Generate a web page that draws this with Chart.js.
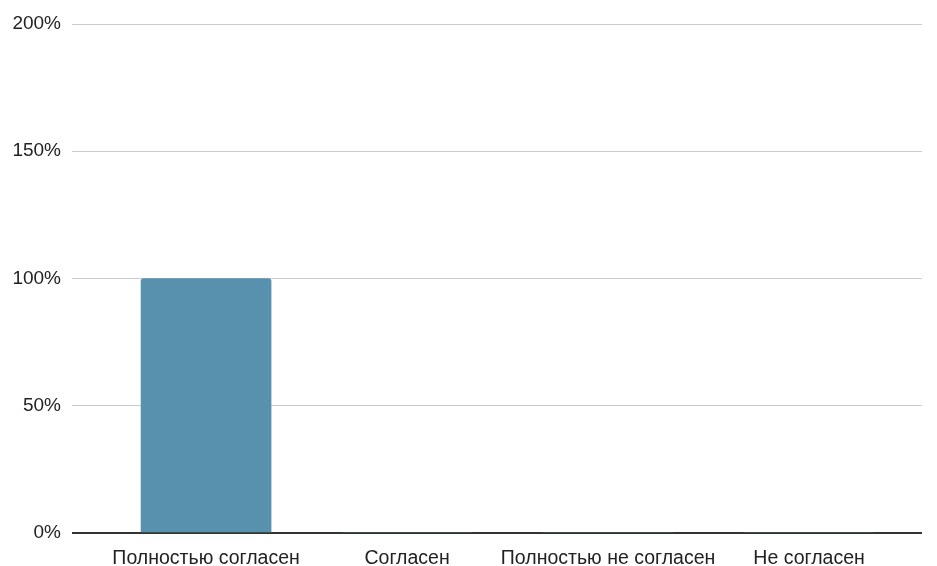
<!DOCTYPE html>
<html>
<head>
<meta charset="utf-8">
<script src="https://cdn.jsdelivr.net/npm/chart.js@4/dist/chart.umd.min.js"></script>
<style>
  html, body { margin: 0; padding: 0; background: #fff; }
  #wrap { width: 937px; height: 566px; }
</style>
</head>
<body>
<div id="wrap"><canvas id="chart"></canvas></div>
<script>
const categories = ['Полностью согласен', 'Согласен', 'Полностью не согласен', 'Не согласен'];
const shares = [100, 0, 0, 0];
const yTicks = [0, 50, 100, 150, 200];

Chart.defaults.font.family = '"Liberation Sans", Arial, sans-serif';
Chart.defaults.color = '#222';

// bars sit on a linear x axis so the category band can be inset like the original
const points = shares.map((v, i) => ({ x: i, y: v }));

new Chart(document.getElementById('chart'), {
    type: 'bar',
    data: {
        datasets: [{
            data: points,
            backgroundColor: '#5891ad',
            borderRadius: (c) => (c.raw && c.raw.y > 0 ? 3 : 0),
            borderSkipped: 'bottom',
            barThickness: 130,
        }],
    },
    options: {
        responsive: true,
        maintainAspectRatio: false,
        animation: false,
        layout: { padding: { top: 24, right: 15, bottom: 0, left: 0 } },
        plugins: {
            legend: { display: false },
            tooltip: { enabled: false },
        },
        scales: {
            x: {
                type: 'linear',
                min: -0.667,
                max: 3.562,
                offset: false,
                afterBuildTicks: (scale) => { scale.ticks = categories.map((c, i) => ({ value: i })); },
                grid: { display: false },
                border: { display: false },
                ticks: {
                    padding: 6,
                    maxRotation: 0,
                    autoSkip: false,
                    font: { size: 19.5 },
                    callback: (v) => categories[v],
                },
                afterFit: (scale) => { scale.height = 33; },
            },
            y: {
                min: 0,
                max: 200,
                afterBuildTicks: (scale) => { scale.ticks = yTicks.map((v) => ({ value: v })); },
                ticks: { callback: (v) => v + '%', padding: 11, font: { size: 19 } },
                border: { display: false },
                grid: {
                    color: (c) => (c.tick && c.tick.value === 0 ? '#333' : '#ccc'),
                    lineWidth: (c) => (c.tick && c.tick.value === 0 ? 2 : 1),
                    drawTicks: false,
                },
                afterFit: (scale) => { scale.width = 72; },
            },
        },
    },
});
</script>
</body>
</html>
